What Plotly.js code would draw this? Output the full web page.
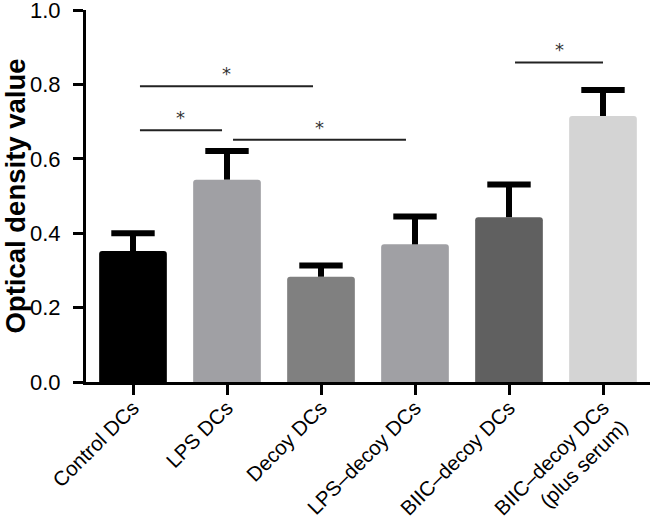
<!DOCTYPE html>
<html>
<head>
<meta charset="utf-8">
<script src="https://cdn.plot.ly/plotly-3.0.1.min.js"></script>
<style>html,body{margin:0;padding:0;background:#fff;}#chart{width:652px;height:523px;}</style>
</head>
<body>
<div id="chart"></div>
<script>
const categories = ["Control DCs", "LPS DCs", "Decoy DCs", "LPS–decoy DCs", "BIIC–decoy DCs", "BIIC–decoy DCs<br>(plus serum)"];
const means = [0.352, 0.544, 0.283, 0.370, 0.443, 0.715];
const errors = [0.048, 0.077, 0.030, 0.075, 0.088, 0.070];
const barColors = ["#000000", "#a0a0a4", "#808080", "#a0a0a4", "#606060", "#d4d4d4"];
const yTicks = [0, 0.2, 0.4, 0.6, 0.8, 1.0];
// significance brackets: start, end (category units), height
const sigX0 = [0.074, 0.074, 1.064, 4.064];
const sigX1 = [1.915, 0.947, 2.904, 5.0];
const sigY = [0.795, 0.677, 0.651, 0.859];
const sigLabel = ["*", "*", "*", "*"];

const xIdx = categories.map((c, i) => i);
const tops = means.map((m, i) => m + errors[i]);

const bars = {
  type: "bar",
  x: xIdx,
  y: means,
  width: 0.72,
  marker: {color: barColors, line: {width: 0}},
  error_y: {
    type: "data",
    symmetric: false,
    array: errors,
    arrayminus: errors.map(() => 0),
    color: "#000",
    thickness: 6,
    width: 0
  },
  hoverinfo: "none"
};

const caps = {
  type: "scatter",
  mode: "markers",
  x: xIdx,
  y: tops,
  marker: {symbol: "line-ew", size: 31, color: "#000", line: {color: "#000", width: 6}},
  hoverinfo: "none",
  cliponaxis: false
};

const shapes = sigX0.map((x0, i) => ({
  type: "line", xref: "x", yref: "y",
  x0: x0, x1: sigX1[i], y0: sigY[i], y1: sigY[i],
  line: {color: "#222", width: 2}
}));

const annotations = sigX0.map((x0, i) => ({
  xref: "x", yref: "y",
  x: (x0 + sigX1[i]) / 2, y: sigY[i],
  text: sigLabel[i], showarrow: false,
  yanchor: "bottom", yshift: 0,
  font: {family: "DejaVu Sans, sans-serif", size: 18, color: "#333"}
}));

const layout = {
  width: 652, height: 523,
  margin: {l: 86, r: 2, t: 10, b: 141},
  paper_bgcolor: "#fff", plot_bgcolor: "#fff",
  showlegend: false,
  barcornerradius: 3,
  font: {family: "Liberation Sans, Arial, sans-serif", color: "#000"},
  xaxis: {
    range: [-0.5, 5.5],
    tickmode: "array", tickvals: xIdx, ticktext: categories,
    tickangle: -45,
    ticks: "outside", ticklen: 10, tickwidth: 3, tickcolor: "#000",
    showline: true, linewidth: 3, linecolor: "#000",
    showgrid: false, zeroline: false,
    automargin: false,
    ticklabelstandoff: -7,
    tickfont: {size: 20.5, color: "#000"}
  },
  yaxis: {
    range: [0, 1.0],
    tickmode: "array", tickvals: yTicks, ticktext: yTicks.map(v => v.toFixed(1)),
    ticks: "outside", ticklen: 10, tickwidth: 3, tickcolor: "#000",
    showline: true, linewidth: 3, linecolor: "#000",
    showgrid: false, zeroline: false,
    automargin: false,
    ticklabelstandoff: 8,
    ticklabeloverflow: "allow",
    tickfont: {size: 22, color: "#000"},
    title: {text: "<b>Optical density value</b>", font: {size: 27.5, color: "#000"}, standoff: 13}
  },
  shapes: shapes,
  annotations: annotations
};

Plotly.newPlot("chart", [bars, caps], layout, {displayModeBar: false, staticPlot: true});
</script>
</body>
</html>
